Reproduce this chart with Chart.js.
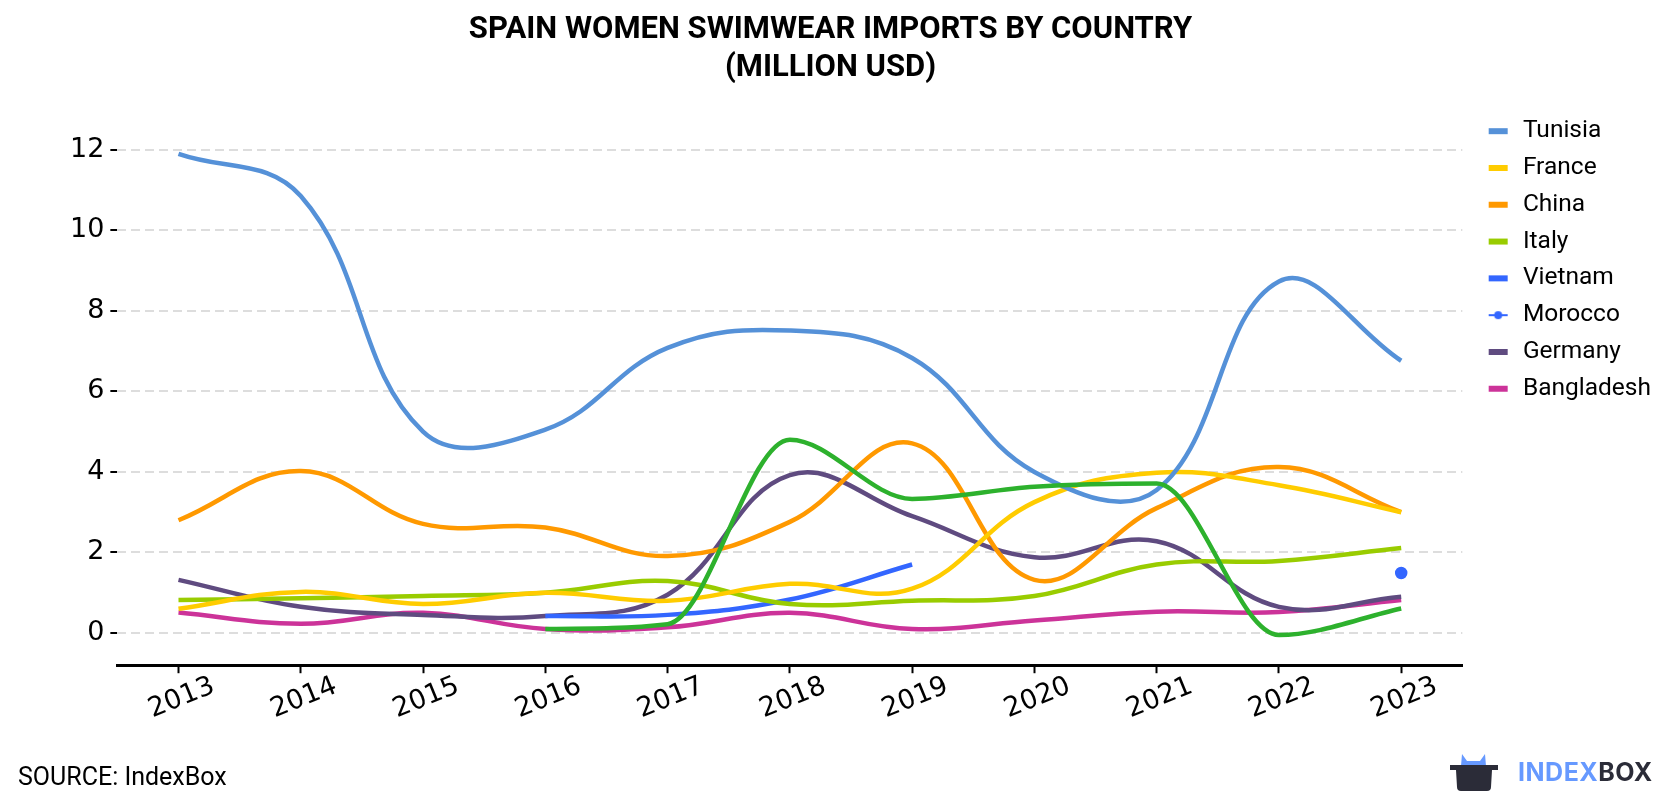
<!DOCTYPE html>
<html>
<head>
<meta charset="utf-8">
<script src="https://cdn.jsdelivr.net/npm/chart.js@4"></script>
<style>
  body { margin: 0; background: #fff; }
  #wrap { position: relative; width: 1680px; height: 800px; }
  #source { position: absolute; left: 18px; top: 764px; font: 25px/1 Roboto, sans-serif; color: #000; }
  #logo { position: absolute; left: 1449px; top: 752px; height: 40px; display: flex; align-items: center; }
  #logo span { font: bold 25px Inter, Roboto, sans-serif; letter-spacing: 0.5px; }
</style>
</head>
<body>
<div id="wrap">
  <canvas id="chart" width="1680" height="800"></canvas>
  <div id="source">SOURCE: IndexBox</div>
  <div id="logo">
    <svg width="50" height="40" viewBox="0 0 50 40">
      <path d="M12 14 L13 2 L18 9 L31 9 L36 2 L37 14 Z" fill="#6699ff"/>
      <path d="M1 13 L49 13 L49 18 L43 18 L42 35 Q42 39 38 39 L12 39 Q8 39 8 35 L7 18 L1 18 Z" fill="#2b2c38"/>
    </svg>
    <span style="margin-left:19px;color:#6699ff">INDEX</span><span style="color:#2b2c38">BOX</span>
  </div>
</div>
<script>
const years = ['2013', '2014', '2015', '2016', '2017', '2018', '2019', '2020', '2021', '2022', '2023'];
const yTicks = [0, 2, 4, 6, 8, 10, 12];

const tunisia    = [11.9, 10.85, 5.0, 5.05, 7.08, 7.51, 6.83, 4.0, 3.55, 8.73, 6.76];
const france     = [0.6, 1.02, 0.72, 1.0, 0.8, 1.22, 1.1, 3.25, 3.98, 3.67, 3.0];
const china      = [2.8, 4.02, 2.71, 2.62, 1.91, 2.76, 4.71, 1.32, 3.1, 4.12, 3.0];
const italy      = [0.82, 0.86, 0.92, 1.0, 1.29, 0.72, 0.8, 0.92, 1.7, 1.79, 2.11];
const vietnam    = [null, null, null, 0.42, 0.45, 0.83, 1.7, null, null, null, null];
const morocco    = [null, null, null, null, null, null, null, null, null, null, 1.49];
const germany    = [1.32, 0.65, 0.45, 0.42, 0.95, 3.92, 2.9, 1.88, 2.28, 0.65, 0.9];
const bangladesh = [0.51, 0.23, 0.5, 0.1, 0.14, 0.5, 0.1, 0.31, 0.53, 0.52, 0.82];
// green line has no legend entry in the original
const unlabeled  = [null, null, null, 0.1, 0.22, 4.8, 3.33, 3.63, 3.71, -0.05, 0.61];

function line(label, data, color) {
  return {
    label: label,
    data: data,
    borderColor: color,
    backgroundColor: color,
    borderWidth: 4.5,
    pointRadius: 0,
    tension: 0.4,
    fill: false
  };
}

// legend swatches: plain bar, or thin bar with a dot for Morocco
// (left part left blank to push the swatch away from the plot)
function swatch(color, dot) {
  const c = document.createElement('canvas');
  c.width = 36; c.height = 12;
  const g = c.getContext('2d');
  g.fillStyle = color;
  if (dot) {
    g.fillRect(14, 5, 19, 2);
    g.beginPath(); g.arc(23.5, 6, 4, 0, Math.PI * 2); g.fill();
  } else {
    g.fillRect(14, 3, 19, 6);
  }
  return c;
}

const morocco_ds = line('Morocco', morocco, '#3366ff');
morocco_ds.pointRadius = 4;
morocco_ds.showLine = false;

const other_ds = line('', unlabeled, '#2db12d');
other_ds.order = -1;
other_ds.cubicInterpolationMode = 'monotone';

new Chart(document.getElementById('chart'), {
  type: 'line',
  data: {
    labels: years,
    datasets: [
      line('Tunisia', tunisia, '#5591d8'),
      line('France', france, '#ffcc00'),
      line('China', china, '#ff9900'),
      line('Italy', italy, '#99cc00'),
      line('Vietnam', vietnam, '#3366ff'),
      morocco_ds,
      line('Germany', germany, '#5f4b80'),
      line('Bangladesh', bangladesh, '#cc3399'),
      other_ds
    ]
  },
  options: {
    responsive: false,
    devicePixelRatio: 1,
    animation: false,
    layout: { padding: { left: 0, right: 19, bottom: 77 } },
    plugins: {
      title: {
        display: true,
        text: ['SPAIN WOMEN SWIMWEAR IMPORTS BY COUNTRY', '(MILLION USD)'],
        color: '#000',
        font: { family: 'Roboto', size: 31, weight: 'bold', lineHeight: 1.2 },
        padding: { top: 12, bottom: 15 }
      },
      legend: {
        position: 'right',
        align: 'start',
        fullSize: false,
        title: { display: true, text: ' ', font: { size: 1 }, padding: { top: 2, bottom: 2 } },
        labels: {
          color: '#000',
          font: { family: 'Roboto', size: 24.5 },
          usePointStyle: true,
          pointStyleWidth: 36,
          padding: 12.3,
          filter: item => item.text !== '',
          generateLabels: chart => {
            const items = Chart.defaults.plugins.legend.labels.generateLabels(chart);
            items.forEach(it => {
              const ds = chart.data.datasets[it.datasetIndex];
              it.pointStyle = swatch(ds.borderColor, ds.label === 'Morocco');
            });
            return items;
          }
        }
      },
      tooltip: { enabled: false }
    },
    scales: {
      x: {
        offset: true,
        grid: { drawOnChartArea: false, offset: false, tickLength: 8, tickWidth: 2, tickColor: '#000' },
        border: { display: true, color: '#000', width: 3 },
        ticks: { color: '#000', font: { family: 'DejaVu Sans', size: 27 }, maxRotation: 22, minRotation: 22, padding: -3, labelOffset: 35 }
      },
      y: {
        min: -0.8,
        max: 13.2,
        afterBuildTicks: axis => { axis.ticks = yTicks.map(v => ({ value: v })); },
        afterFit: axis => { axis.width += 64; },
        grid: { color: '#dddddd', lineWidth: 2, tickLength: 7, tickWidth: 2, tickColor: '#000', tickBorderDash: [] },
        border: { display: false, dash: [9, 5] },
        ticks: { color: '#000', font: { family: 'DejaVu Sans', size: 27 }, padding: 6 }
      }
    }
  }
});
</script>
</body>
</html>
